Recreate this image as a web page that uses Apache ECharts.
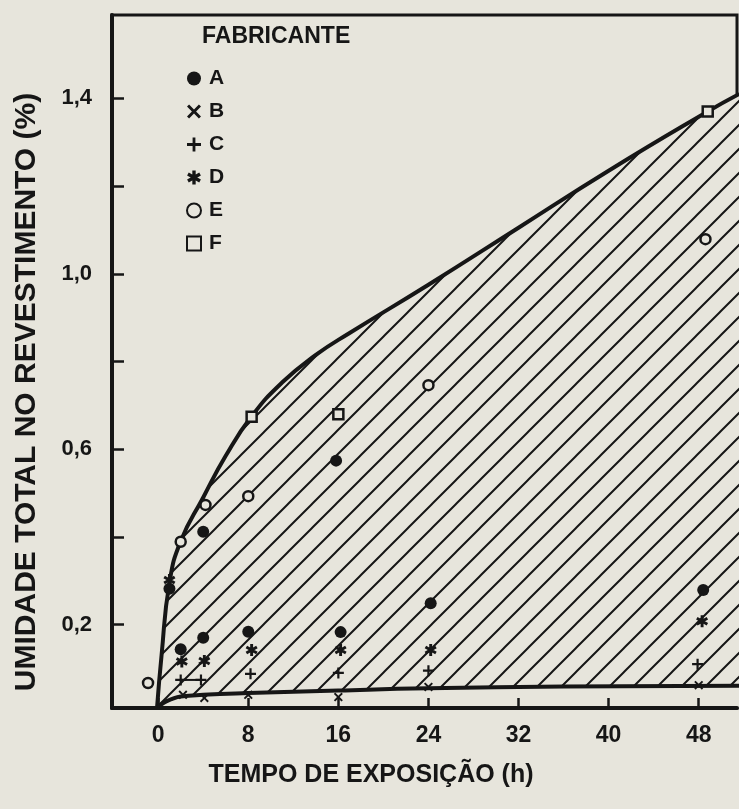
<!DOCTYPE html>
<html><head><meta charset="utf-8">
<script src="https://cdn.jsdelivr.net/npm/echarts@6/dist/echarts.min.js"></script>
<style>html,body{margin:0;padding:0;background:#e7e5dc}#c{width:739px;height:809px}</style>
</head><body><div id="c"></div>
<script>
// ---- data (hours, moisture %) ----
const xTicks = [0, 8, 16, 24, 32, 40, 48];
const yTicks = [0.2, 0.4, 0.6, 0.8, 1.0, 1.2, 1.4];
const yLabels = [0.2, 0.6, 1.0, 1.4];
const manufacturers = ['A', 'B', 'C', 'D', 'E', 'F'];
const upperCurve = [[-0.1,0.01],[0.3,0.13],[1,0.295],[2,0.39],[4,0.49],[6,0.585],[8.3,0.675],[11,0.752],[14,0.815],[17,0.865],[24,0.975],[32,1.105],[40,1.235],[48.8,1.37],[51.6,1.41]];
const lowerCurve = [[-0.1,0.01],[0.5,0.022],[1.2,0.03],[2,0.036],[4,0.04],[8,0.044],[16,0.05],[24,0.055],[36,0.059],[51.6,0.061]];
const dataA = [[1,0.282],[2,0.144],[4,0.17],[4,0.412],[8,0.184],[15.8,0.574],[16.2,0.183],[24.2,0.249],[48.4,0.279]];
const dataB = [[2.2,0.04],[4.1,0.033],[8,0.04],[16,0.035],[24,0.058],[48,0.062]];
const dataC = [[2,0.074],[3.8,0.074],[8.2,0.088],[16,0.09],[24,0.095],[47.9,0.11]];
const dataD = [[1,0.302],[2.1,0.116],[4.1,0.117],[8.3,0.142],[16.2,0.142],[24.2,0.142],[48.3,0.208]];
const dataE = [[-0.9,0.067],[2,0.389],[4.2,0.473],[8,0.493],[24,0.746],[48.6,1.079]];
const dataF = [[8.3,0.674],[16,0.68],[48.8,1.37]];
const cLink = [[2,0.074],[3.8,0.074]];

const BG = '#e7e5dc', INK = '#161616';
const FONT = '"Liberation Sans", Arial, sans-serif';

function hatch() {
  const s = 24, c = document.createElement('canvas');
  c.width = s; c.height = s;
  const g = c.getContext('2d');
  g.fillStyle = BG; g.fillRect(0, 0, s, s);
  g.strokeStyle = INK; g.lineWidth = 2;
  g.beginPath();
  g.moveTo(-2, s + 2); g.lineTo(s + 2, -2);
  g.moveTo(-2, 2); g.lineTo(2, -2);
  g.moveTo(s - 2, s + 2); g.lineTo(s + 2, s - 2);
  g.stroke();
  return c;
}
function asterisk() {
  let p = '';
  [90, 30, 150].forEach(a => {
    const t = a * Math.PI / 180, L = 5, w = 1.2;
    const dx = Math.cos(t), dy = Math.sin(t), nx = -dy, ny = dx;
    const pts = [[5+L*dx+w*nx,5+L*dy+w*ny],[5+L*dx-w*nx,5+L*dy-w*ny],[5-L*dx-w*nx,5-L*dy-w*ny],[5-L*dx+w*nx,5-L*dy+w*ny]];
    p += 'M' + pts.map(q => q[0].toFixed(2) + ',' + q[1].toFixed(2)).join('L') + 'Z';
  });
  return 'path://' + p;
}
const SYM_PLUS = 'path://M4,0H6V4H10V6H6V10H4V6H0V4H4Z';
const SYM_X = 'path://M0,1.5L1.5,0L5,3.5L8.5,0L10,1.5L6.5,5L10,8.5L8.5,10L5,6.5L1.5,10L0,8.5L3.5,5Z';

const chart = echarts.init(document.getElementById('c'), null, {renderer: 'canvas'});
const lab = {fontFamily: FONT, fontWeight: 'bold', color: INK};
const filled = {color: INK, opacity: 1};
const hollow = {color: BG, borderColor: INK, borderWidth: 2.5, opacity: 1};
chart.setOption({
  backgroundColor: BG,
  animation: false,
  grid: {left: 112, right: 2, top: 15, bottom: 101, show: true, borderColor: INK, borderWidth: 3, backgroundColor: 'transparent'},
  xAxis: {
    type: 'value', min: -4.1, max: 51.4, z: 10,
    axisLine: {show: true, onZero: false, lineStyle: {color: INK, width: 4}},
    axisTick: {show: true, inside: true, length: 10, lineStyle: {color: INK, width: 2.5}, customValues: xTicks},
    axisLabel: Object.assign({fontSize: 23, margin: 16, customValues: xTicks, formatter: v => String(v)}, lab),
    splitLine: {show: false}
  },
  yAxis: {
    type: 'value', min: 0.01, max: 1.59, z: 10,
    axisLine: {show: true, onZero: false, lineStyle: {color: INK, width: 4}},
    axisTick: {show: true, inside: true, length: 12, lineStyle: {color: INK, width: 2.5}, customValues: yTicks},
    axisLabel: Object.assign({fontSize: 22, margin: 20, customValues: yLabels, formatter: v => v.toFixed(1).replace('.', ',')}, lab),
    splitLine: {show: false}
  },
  legend: {
    data: manufacturers, orient: 'vertical', left: 181, top: 63,
    itemWidth: 14, itemHeight: 14, itemGap: 12,
    textStyle: Object.assign({fontSize: 21, padding: [0, 0, 0, 3]}, lab),
    inactiveColor: INK
  },
  graphic: [
    {type: 'text', left: 202, top: 25, style: {text: 'FABRICANTE', fontSize: 23, fontWeight: 'bold', fontFamily: FONT, fill: INK}},
    {type: 'text', x: 12, y: 392, rotation: Math.PI / 2, style: {text: 'UMIDADE TOTAL NO REVESTIMENTO (%)', fontSize: 30, fontWeight: 'bold', fontFamily: FONT, fill: INK, align: 'center', verticalAlign: 'top'}},
    {type: 'text', x: 371, y: 763, style: {text: 'TEMPO DE EXPOSIÇÃO (h)', fontSize: 25, fontWeight: 'bold', fontFamily: FONT, fill: INK, align: 'center', verticalAlign: 'top'}}
  ],
  series: [
    {type: 'line', name: 'upper', data: upperCurve, smooth: 0.5, symbol: 'none', z: 3, silent: true,
      lineStyle: {color: INK, width: 4}, areaStyle: {color: {image: hatch(), repeat: 'repeat'}, opacity: 1, origin: 'start'}},
    {type: 'line', name: 'lower', data: lowerCurve, smooth: 0.5, symbol: 'none', z: 4, silent: true,
      lineStyle: {color: INK, width: 4}, areaStyle: {color: BG, opacity: 1, origin: 'start'}},
    {type: 'line', name: 'clink', data: cLink, symbol: 'none', z: 5, silent: true, lineStyle: {color: INK, width: 2}},
    {type: 'scatter', name: 'A', data: dataA, symbol: 'circle', symbolSize: 12, z: 6, itemStyle: filled},
    {type: 'scatter', name: 'B', data: dataB, symbol: SYM_X, symbolSize: 9, z: 6, itemStyle: filled},
    {type: 'scatter', name: 'C', data: dataC, symbol: SYM_PLUS, symbolSize: 11, z: 6, itemStyle: filled},
    {type: 'scatter', name: 'D', data: dataD, symbol: asterisk(), symbolSize: 12, z: 6, itemStyle: filled},
    {type: 'scatter', name: 'E', data: dataE, symbol: 'circle', symbolSize: 10, z: 6, itemStyle: hollow},
    {type: 'scatter', name: 'F', data: dataF, symbol: 'rect', symbolSize: 10, z: 6, itemStyle: hollow}
  ]
});
</script></body></html>
